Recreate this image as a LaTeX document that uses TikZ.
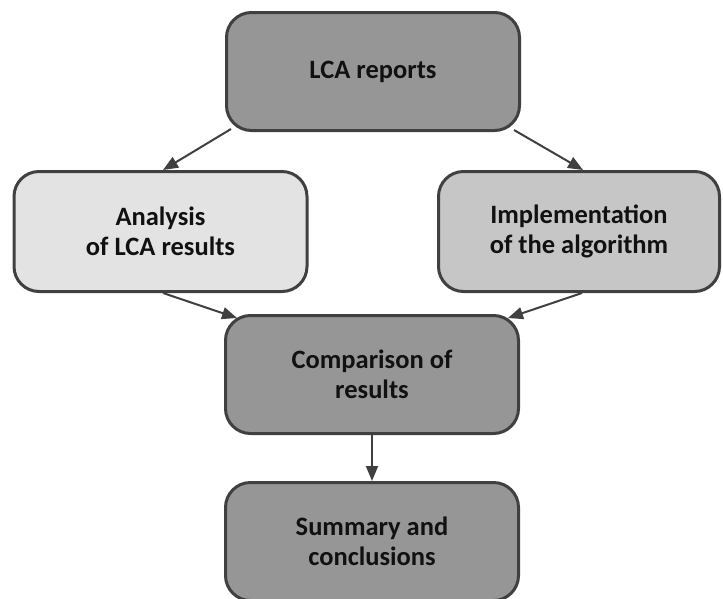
\documentclass[tikz,border=0pt]{standalone}
\usepackage{fontspec}
\setmainfont{Carlito}
\usetikzlibrary{arrows.meta,calc}
\definecolor{edgegray}{HTML}{404040}
\definecolor{darkfill}{HTML}{969696}
\definecolor{lightfill}{HTML}{E3E3E3}
\definecolor{midfill}{HTML}{C6C6C6}
\definecolor{textgray}{HTML}{111111}
\tikzset{
  stepbox/.style={draw=edgegray, line width=3pt, rounded corners=25pt,
    minimum width=293pt, minimum height=118pt, align=center,
    text=textgray, font=\fontsize{26.5}{30.5}\selectfont\bfseries, inner sep=0pt},
  flow/.style={draw=edgegray, line width=2pt,
    -{Triangle[length=15pt,width=12pt]}}
}
\begin{document}
\begin{tikzpicture}[x=1pt,y=-1pt]
  \useasboundingbox (0,0) rectangle (723,598);
  \node[stepbox, fill=darkfill] (top) at (373,71.5) {LCA reports};
  \node[stepbox, fill=lightfill, minimum height=120pt] (left) at (160.5,231.5)
    {Analysis\\of LCA results};
  \node[stepbox, fill=midfill, minimum width=281pt, minimum height=120pt] (right) at (579,231.5)
    {Implementation\\of the algorithm};
  \node[stepbox, fill=darkfill] (comp) at (372,374.5) {Comparison of\\results};
  \node[stepbox, fill=darkfill] (summ) at (372,541.5)
    {Summary and\\conclusions};
  \draw[flow] ($(top.south west)+(6,-3)$) -- ($(left.north)+(2.5,0)$);
  \draw[flow] ($(top.south east)+(-7,-2)$) -- ($(right.north)+(4,0)$);
  \draw[flow] ($(left.south)+(2.5,0)$) -- ($(comp.north west)+(13,4)$);
  \draw[flow] ($(right.south)+(3,0)$) -- ($(comp.north east)+(-12,4)$);
  \draw[flow] (comp.south) -- (summ.north);
\end{tikzpicture}
\end{document}
